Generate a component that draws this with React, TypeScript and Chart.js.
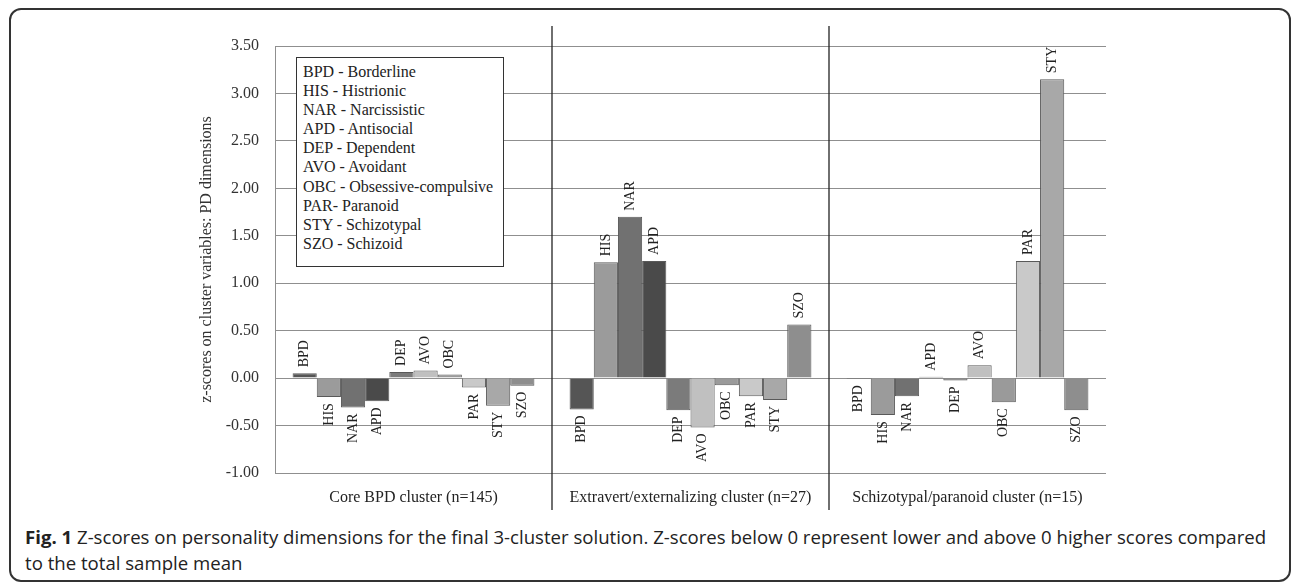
import React, { useEffect, useRef } from "react";
import { Chart, registerables } from "chart.js";

Chart.register(...registerables);

const clusterLabels = [
  "Core BPD cluster (n=145)",
  "Extravert/externalizing cluster (n=27)",
  "Schizotypal/paranoid cluster (n=15)",
];

const pdCodes = ["BPD", "HIS", "NAR", "APD", "DEP", "AVO", "OBC", "PAR", "STY", "SZO"];

const legendLines = [
  "BPD - Borderline",
  "HIS - Histrionic",
  "NAR - Narcissistic",
  "APD - Antisocial",
  "DEP - Dependent",
  "AVO - Avoidant",
  "OBC - Obsessive-compulsive",
  "PAR- Paranoid",
  "STY - Schizotypal",
  "SZO - Schizoid",
];

// z-scores per PD dimension, one value per cluster
const bpdScores = [0.05, -0.33, -0.01];
const hisScores = [-0.2, 1.22, -0.39];
const narScores = [-0.31, 1.7, -0.19];
const apdScores = [-0.245, 1.235, 0.015];
const depScores = [0.065, -0.34, -0.025];
const avoScores = [0.08, -0.52, 0.135];
const obcScores = [0.037, -0.076, -0.255];
const parScores = [-0.1, -0.19, 1.235];
const styScores = [-0.29, -0.23, 3.15];
const szoScores = [-0.08, 0.564, -0.34];

const yTickMin = -1;
const yTickMax = 3.5;
const yTickStep = 0.5;

const yTitle = "z-scores on cluster variables: PD dimensions";
const captionBold = "Fig. 1";
const captionLine1 =
  " Z-scores on personality dimensions for the final 3-cluster solution. Z-scores below 0 represent lower and above 0 higher scores compared";
const captionLine2 = "to the total sample mean";

const allScores = [
  bpdScores, hisScores, narScores, apdScores, depScores,
  avoScores, obcScores, parScores, styScores, szoScores,
];

const pdColors = [
  "#555555", "#9b9b9b", "#717171", "#4a4a4a", "#7b7b7b",
  "#c0c0c0", "#9a9a9a", "#c9c9c9", "#a8a8a8", "#8e8e8e",
];

const SERIF = "'Liberation Serif', 'Times New Roman', serif";

const barLabelPlugin = {
  id: "barLabels",
  afterDatasetsDraw(chart: any) {
    const ctx = chart.ctx;
    ctx.save();
    ctx.font = `14px ${SERIF}`;
    ctx.fillStyle = "#222";
    ctx.textBaseline = "middle";
    chart.data.datasets.forEach((ds: any, di: number) => {
      const meta = chart.getDatasetMeta(di);
      meta.data.forEach((el: any, i: number) => {
        const v = ds.data[i];
        ctx.save();
        if (v >= 0) {
          ctx.translate(el.x, el.y - 6);
          ctx.rotate(-Math.PI / 2);
          ctx.textAlign = "left";
        } else {
          ctx.translate(el.x, el.y + 6);
          ctx.rotate(-Math.PI / 2);
          ctx.textAlign = "right";
        }
        ctx.fillText(ds.label, 0, 0);
        ctx.restore();
      });
    });
    ctx.restore();
  },
};

const separatorPlugin = {
  id: "separators",
  afterDraw(chart: any) {
    const x = chart.scales.x;
    const area = chart.chartArea;
    const ctx = chart.ctx;
    ctx.save();
    ctx.strokeStyle = "#222";
    ctx.lineWidth = 1.3;
    for (let i = 0; i < clusterLabels.length - 1; i++) {
      const px = (x.getPixelForValue(i) + x.getPixelForValue(i + 1)) / 2;
      ctx.beginPath();
      ctx.moveTo(px, area.top - 20);
      ctx.lineTo(px, area.bottom + 37);
      ctx.stroke();
    }
    ctx.restore();
  },
};

function ChartCanvas() {
  const ref = useRef<HTMLCanvasElement | null>(null);
  useEffect(() => {
    if (!ref.current) return;
    const chart = new Chart(ref.current, {
      type: "bar",
      data: {
        labels: clusterLabels,
        datasets: allScores.map((scores, i) => ({
          label: pdCodes[i],
          data: scores,
          backgroundColor: pdColors[i],
          borderColor: "#595959",
          borderWidth: 1,
          categoryPercentage: 0.873,
          barPercentage: 1,
        })),
      },
      options: {
        animation: false,
        responsive: false,
        maintainAspectRatio: false,
        layout: { padding: { left: 0, top: 46, right: 186, bottom: 7 } },
        plugins: {
          legend: { display: false },
          tooltip: { enabled: false },
        },
        scales: {
          x: {
            grid: { display: false },
            border: { display: false },
            ticks: {
              color: "#222",
              font: { family: SERIF, size: 16 },
              padding: 7,
              maxRotation: 0,
            },
            afterFit(scale: any) {
              scale.height = 40;
            },
          },
          y: {
            min: yTickMin,
            max: yTickMax,
            grid: { color: "#8f8f8f", lineWidth: 1, drawTicks: false },
            border: { display: true, color: "#8f8f8f", width: 1 },
            ticks: {
              stepSize: yTickStep,
              color: "#333",
              font: { family: SERIF, size: 16 },
              padding: 16,
              callback: (v: any) => Number(v).toFixed(2),
            },
            title: {
              display: true,
              text: yTitle,
              color: "#333",
              font: { family: SERIF, size: 16 },
              padding: { top: 197, bottom: 0 },
            },
            afterFit(scale: any) {
              scale.width = 275;
            },
          },
        },
      },
      plugins: [barLabelPlugin, separatorPlugin],
    });
    return () => chart.destroy();
  }, []);
  return (
    <canvas
      ref={ref}
      width={1292}
      height={520}
      style={{ position: "absolute", left: 0, top: 0, width: 1292, height: 520 }}
    />
  );
}

export default function App() {
  return (
    <div
      style={{
        position: "absolute",
        left: 0,
        top: 0,
        width: 1292,
        height: 584,
        overflow: "hidden",
        background: "#fff",
      }}
    >
      <div
        style={{
          position: "absolute",
          left: 9,
          top: 8,
          width: 1282,
          height: 574,
          boxSizing: "border-box",
          border: "2px solid #333",
          borderRadius: 12,
        }}
      />
      <ChartCanvas />
      <div
        style={{
          position: "absolute",
          left: 296,
          top: 57,
          width: 208,
          height: 210,
          boxSizing: "border-box",
          border: "1.5px solid #333",
          background: "#fff",
          paddingLeft: 6,
          paddingTop: 4,
          fontFamily: SERIF,
          fontSize: 16,
          lineHeight: "19.1px",
          color: "#222",
        }}
      >
        {legendLines.map((t) => (
          <div key={t} style={{ whiteSpace: "nowrap" }}>
            {t}
          </div>
        ))}
      </div>
      <div
        style={{
          position: "absolute",
          left: 25,
          top: 524,
          fontFamily: "'Open Sans', sans-serif",
          fontSize: 18.6,
          lineHeight: "26px",
          color: "#222",
          whiteSpace: "nowrap",
        }}
      >
        <div>
          <b style={{ color: "#222" }}>{captionBold}</b>
          {captionLine1}
        </div>
        <div>{captionLine2}</div>
      </div>
    </div>
  );
}
